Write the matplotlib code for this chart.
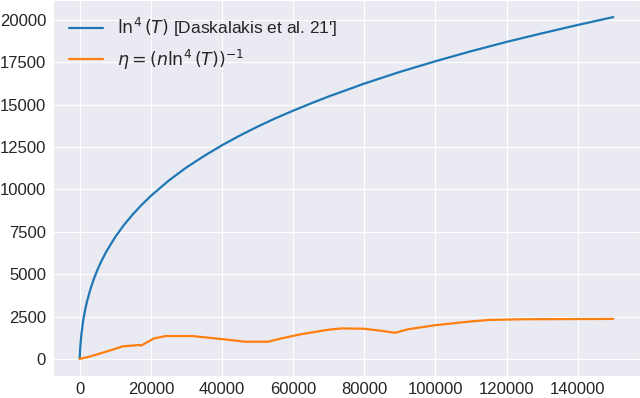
import matplotlib
matplotlib.use("Agg")
import matplotlib.pyplot as plt
import seaborn as sns

# Blue curve: ln^4(T) values
t_blue = [0, 50, 100, 200, 500, 1000, 1500, 2000, 3000, 4000, 5000, 6000, 7500,
          10000, 12500, 15000, 17500, 20000, 25000, 30000, 35000, 40000, 45000,
          50000, 55000, 60000, 65000, 70000, 80000, 90000, 100000, 110000,
          120000, 130000, 140000, 150000]
v_blue = [0, 234, 450, 790, 1490, 2280, 2860, 3340, 4110, 4730, 5260, 5730, 6340,
          7200, 7920, 8550, 9110, 9620, 10520, 11300, 11980, 12610, 13180,
          13710, 14200, 14650, 15080, 15490, 16250, 16940, 17570, 18160,
          18710, 19220, 19710, 20175]

# Orange curve: step size eta values
t_orange = [0, 2800, 8400, 12100, 16700, 17200, 20900, 24200, 31600, 35300,
            40000, 46500, 53000, 56700, 62300, 69800, 73500, 80000, 84700,
            88700, 92300, 100000, 109400, 115000, 124500, 150000]
v_orange = [0, 137, 490, 740, 820, 780, 1210, 1350, 1350, 1270,
            1170, 1015, 1015, 1210, 1460, 1720, 1800, 1780, 1660,
            1540, 1750, 1990, 2200, 2300, 2340, 2360]

labels = [r"$\ln^4(T)$ [Daskalakis et al. 21']", r"$\eta = (n\ln^4(T))^{-1}$"]
xticks = [0, 20000, 40000, 60000, 80000, 100000, 120000, 140000]
yticks = [0, 2500, 5000, 7500, 10000, 12500, 15000, 17500, 20000]

sns.set_style("darkgrid")
plt.rcParams['font.family'] = ['Liberation Sans', 'DejaVu Sans']
plt.rcParams['mathtext.fontset'] = 'dejavusans'

fig = plt.figure(figsize=(6.4, 3.98), dpi=100)
ax = fig.add_axes([53/640, 22/398, 587/640, 376/398])
ax.plot(t_blue, v_blue, color="#1f77b4", lw=1.6, label=labels[0])
ax.plot(t_orange, v_orange, color="#ff7f0e", lw=1.6, label=labels[1])
ax.set_xticks(xticks)
ax.set_yticks(yticks)
ax.tick_params(axis='x', labelsize=12, pad=0.5)
ax.tick_params(axis='y', labelsize=12, pad=1.5)
ax.legend(loc="upper left", frameon=False, fontsize=12.5)
fig.savefig("out.png", dpi=100)
